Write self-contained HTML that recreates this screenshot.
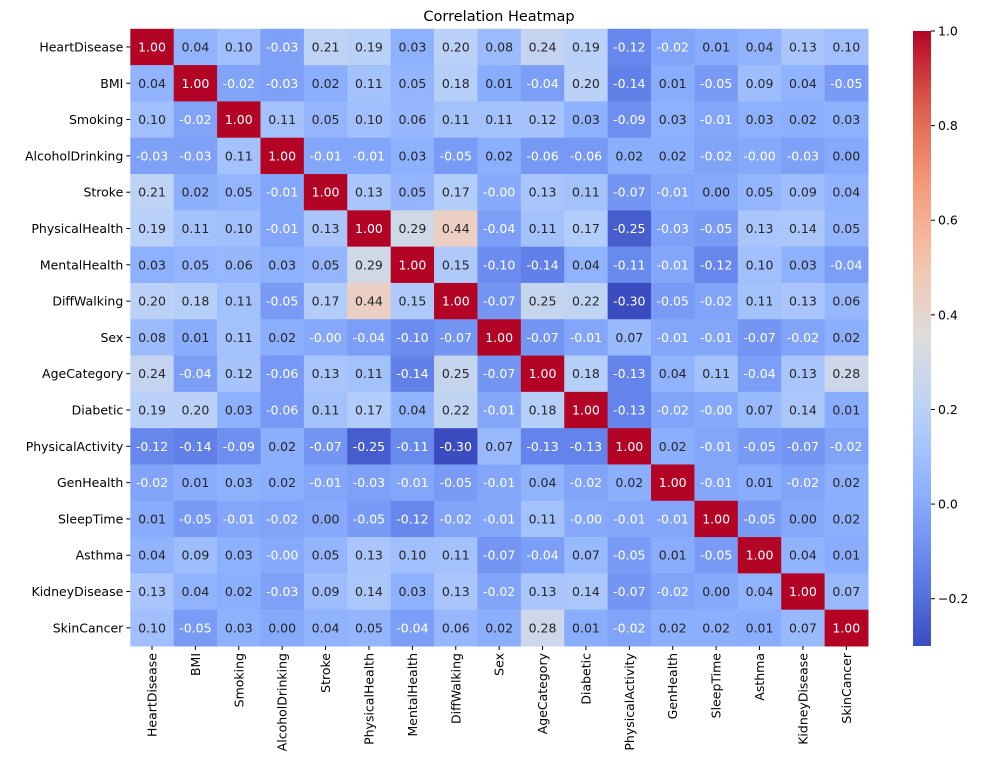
<!DOCTYPE html>
<html><head><meta charset="utf-8"><style>
body{margin:0;background:#fff;font-family:"Liberation Sans","DejaVu Sans",sans-serif;}
svg text{font-family:"DejaVu Sans","Liberation Sans",sans-serif;}
</style></head><body>
<svg id="chart" width="1003" height="775" xmlns="http://www.w3.org/2000/svg">
<text x="499" y="21" text-anchor="middle" font-size="14.5" fill="#000">Correlation Heatmap</text>
<g id="cells"></g><g id="ylabels"></g><g id="xlabels"></g><g id="cbar"></g>
</svg>
<script>
const labels=["HeartDisease","BMI","Smoking","AlcoholDrinking","Stroke","PhysicalHealth","MentalHealth","DiffWalking","Sex","AgeCategory","Diabetic","PhysicalActivity","GenHealth","SleepTime","Asthma","KidneyDisease","SkinCancer"];
const rowHeartDisease=[1.00,0.04,0.10,-0.03,0.21,0.19,0.03,0.20,0.08,0.24,0.19,-0.12,-0.02,0.01,0.04,0.13,0.10];
const rowBMI=[0.04,1.00,-0.02,-0.03,0.02,0.11,0.05,0.18,0.01,-0.04,0.20,-0.14,0.01,-0.05,0.09,0.04,-0.05];
const rowSmoking=[0.10,-0.02,1.00,0.11,0.05,0.10,0.06,0.11,0.11,0.12,0.03,-0.09,0.03,-0.01,0.03,0.02,0.03];
const rowAlcohol=[-0.03,-0.03,0.11,1.00,-0.01,-0.01,0.03,-0.05,0.02,-0.06,-0.06,0.02,0.02,-0.02,-0.00,-0.03,0.00];
const rowStroke=[0.21,0.02,0.05,-0.01,1.00,0.13,0.05,0.17,-0.00,0.13,0.11,-0.07,-0.01,0.00,0.05,0.09,0.04];
const rowPhysHealth=[0.19,0.11,0.10,-0.01,0.13,1.00,0.29,0.44,-0.04,0.11,0.17,-0.25,-0.03,-0.05,0.13,0.14,0.05];
const rowMentHealth=[0.03,0.05,0.06,0.03,0.05,0.29,1.00,0.15,-0.10,-0.14,0.04,-0.11,-0.01,-0.12,0.10,0.03,-0.04];
const rowDiffWalking=[0.20,0.18,0.11,-0.05,0.17,0.44,0.15,1.00,-0.07,0.25,0.22,-0.30,-0.05,-0.02,0.11,0.13,0.06];
const rowSex=[0.08,0.01,0.11,0.02,-0.00,-0.04,-0.10,-0.07,1.00,-0.07,-0.01,0.07,-0.01,-0.01,-0.07,-0.02,0.02];
const rowAge=[0.24,-0.04,0.12,-0.06,0.13,0.11,-0.14,0.25,-0.07,1.00,0.18,-0.13,0.04,0.11,-0.04,0.13,0.28];
const rowDiabetic=[0.19,0.20,0.03,-0.06,0.11,0.17,0.04,0.22,-0.01,0.18,1.00,-0.13,-0.02,-0.00,0.07,0.14,0.01];
const rowPhysAct=[-0.12,-0.14,-0.09,0.02,-0.07,-0.25,-0.11,-0.30,0.07,-0.13,-0.13,1.00,0.02,-0.01,-0.05,-0.07,-0.02];
const rowGenHealth=[-0.02,0.01,0.03,0.02,-0.01,-0.03,-0.01,-0.05,-0.01,0.04,-0.02,0.02,1.00,-0.01,0.01,-0.02,0.02];
const rowSleep=[0.01,-0.05,-0.01,-0.02,0.00,-0.05,-0.12,-0.02,-0.01,0.11,-0.00,-0.01,-0.01,1.00,-0.05,0.00,0.02];
const rowAsthma=[0.04,0.09,0.03,-0.00,0.05,0.13,0.10,0.11,-0.07,-0.04,0.07,-0.05,0.01,-0.05,1.00,0.04,0.01];
const rowKidney=[0.13,0.04,0.02,-0.03,0.09,0.14,0.03,0.13,-0.02,0.13,0.14,-0.07,-0.02,0.00,0.04,1.00,0.07];
const rowSkin=[0.10,-0.05,0.03,0.00,0.04,0.05,-0.04,0.06,0.02,0.28,0.01,-0.02,0.02,0.02,0.01,0.07,1.00];
const matrix=[rowHeartDisease,rowBMI,rowSmoking,rowAlcohol,rowStroke,rowPhysHealth,rowMentHealth,rowDiffWalking,rowSex,rowAge,rowDiabetic,rowPhysAct,rowGenHealth,rowSleep,rowAsthma,rowKidney,rowSkin];
const cbarTicks=[1.0,0.8,0.6,0.4,0.2,0.0,-0.2];

const NS="http://www.w3.org/2000/svg";
const L=130.3,R=868,T=28.8,B=646;
let vmin=Infinity,vmax=-Infinity;
matrix.forEach(r=>r.forEach(v=>{vmin=Math.min(vmin,v);vmax=Math.max(vmax,v);}));
const n=labels.length,cw=(R-L)/n,ch=(B-T)/n;
const xPos=i=>L+i*cw, yPos=i=>T+i*ch;
const cm=[[59,76,192],[98,130,234],[141,176,254],[184,208,249],[221,221,221],[245,196,173],[244,154,123],[222,96,77],[180,4,38]];
function color(v){let t=(v-vmin)/(vmax-vmin);t=Math.max(0,Math.min(1,t));const p=t*8,i=Math.min(7,Math.floor(p)),f=p-i;
 return cm[i].map((c,k)=>Math.round(c+(cm[i+1][k]-c)*f));}
function lum(c){const l=c.map(x=>{x/=255;return x<=0.03928?x/12.92:Math.pow((x+0.055)/1.055,2.4);});return 0.2126*l[0]+0.7152*l[1]+0.0722*l[2];}
const threshLum=lum(color(0.0))-1e-6;
function fmt(v){const neg=v<0||Object.is(v,-0);return (neg?'-':'')+Math.abs(v).toFixed(2);}
function el(tag,attrs,parent){const e=document.createElementNS(NS,tag);for(const k in attrs)e.setAttribute(k,attrs[k]);parent.appendChild(e);return e;}
const gc=document.getElementById('cells');
matrix.forEach((row,i)=>row.forEach((v,j)=>{
 const c=color(v);
 const r=el('rect',{x:xPos(j),y:yPos(i),width:cw+0.5,height:ch+0.5,fill:`rgb(${c})`},gc);
 
 
 const neg=v<0||Object.is(v,-0);
 const dark=neg||lum(c)<threshLum||v>0.85;
 const t=el('text',{x:xPos(j)+cw/2,y:yPos(i)+ch/2+4.5,'text-anchor':'middle','font-size':'12.5',fill:dark?'#fff':'#262626'},gc);
 
 
 t.textContent=fmt(v);
}));
const gy=document.getElementById('ylabels'),gx=document.getElementById('xlabels');
labels.forEach((lab,i)=>{
 el('line',{x1:L-4,x2:L,y1:yPos(i)+ch/2,y2:yPos(i)+ch/2,stroke:'#000'},gy);
 const t=el('text',{x:L-7,y:yPos(i)+ch/2+4.5,'text-anchor':'end','font-size':'12.5'},gy);
 
 
 t.textContent=lab;
 const x=xPos(i)+cw/2;
 el('line',{x1:x,x2:x,y1:B,y2:B+4,stroke:'#000'},gx);
 const u=el('text',{x:0,y:0,'text-anchor':'end','font-size':'12.5',transform:`translate(${x+4.5},${B+7}) rotate(-90)`},gx);
 
 
 u.textContent=lab;
});
const gb=document.getElementById('cbar');
const CX=913,CW=18,CT=31,CB=646;
const cy=v=>CB-(v-vmin)/(vmax-vmin)*(CB-CT);
const defs=el('defs',{},gb);
const grad=el('linearGradient',{id:'cg',x1:0,y1:1,x2:0,y2:0},defs);
for(let k=0;k<=20;k++){const v=vmin+(vmax-vmin)*k/20;el('stop',{offset:k/20,'stop-color':`rgb(${color(v)})`},grad);}
const cr=el('rect',{x:CX,y:CT,width:CW,height:CB-CT,fill:'url(#cg)'},gb);


cbarTicks.forEach(v=>{
 const y=cy(v);
 el('line',{x1:CX+CW,x2:CX+CW+4,y1:y,y2:y,stroke:'#000'},gb);
 const t=el('text',{x:CX+CW+7,y:y+4.5,'font-size':'12.5'},gb);
 
 
 t.textContent=(v<0?'\u2212'+Math.abs(v).toFixed(1):v.toFixed(1));
});
</script>
</body></html>
